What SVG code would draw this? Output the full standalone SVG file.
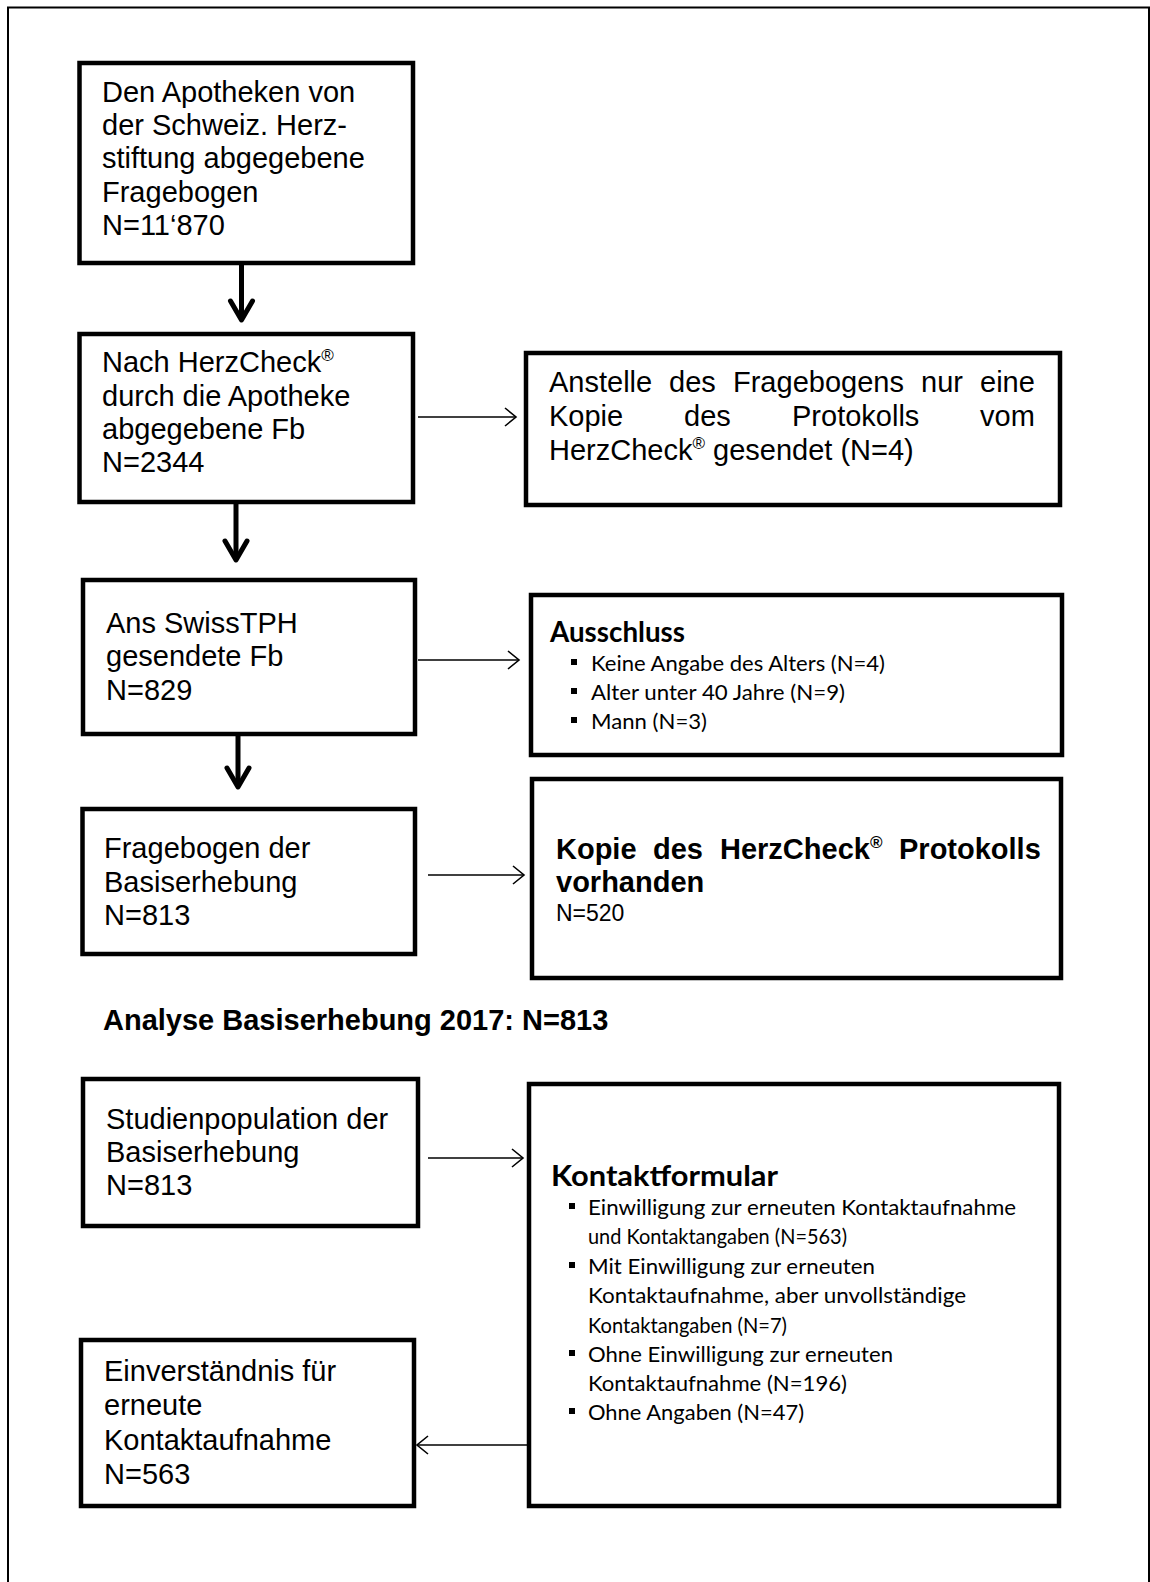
<svg xmlns="http://www.w3.org/2000/svg" width="1150" height="1582" viewBox="0 0 1150 1582">
<style>
.box{fill:#fff;stroke:#000;stroke-width:4.5}
.t{font-family:"Liberation Sans",Arial,sans-serif;font-size:29px;fill:#000}
.tb{font-family:"Liberation Sans",Arial,sans-serif;font-size:29px;font-weight:bold;fill:#000}
.c{font-family:Lato,"Open Sans",sans-serif;font-size:22px;fill:#000}
.cb{font-family:Lato,"Open Sans",sans-serif;font-size:28px;font-weight:bold;fill:#000}
.sup{font-size:17px}
.thick{stroke:#000;stroke-width:5;fill:none}
.thin{stroke:#000;stroke-width:1.6;fill:none}
.bul{fill:#000}
</style>
<defs>
<marker id="mThick" markerUnits="userSpaceOnUse" markerWidth="40" markerHeight="40" viewBox="-30 -20 40 40" refX="0" refY="0" orient="auto">
<path d="M-19,-11 L0,0 L-19,11" fill="none" stroke="#000" stroke-width="5" stroke-linecap="round" stroke-linejoin="round"/>
</marker>
<marker id="mThin" markerUnits="userSpaceOnUse" markerWidth="30" markerHeight="30" viewBox="-20 -15 30 30" refX="0" refY="0" orient="auto">
<path d="M-11,-9 L0,0 L-11,9" fill="none" stroke="#000" stroke-width="1.6"/>
</marker>
</defs>
<rect width="1150" height="1582" fill="#fff"/>
<path d="M8,1582 V7.5 H1149 V1582" fill="none" stroke="#000" stroke-width="2"/>

<g id="connectors">
<line class="thick" x1="241.5" y1="265" x2="241.5" y2="320" marker-end="url(#mThick)"/>
<line class="thin" x1="418" y1="417" x2="516" y2="417" marker-end="url(#mThin)"/>
<line class="thick" x1="236" y1="504" x2="236" y2="560" marker-end="url(#mThick)"/>
<line class="thin" x1="418" y1="660" x2="519" y2="660" marker-end="url(#mThin)"/>
<line class="thick" x1="238" y1="736" x2="238" y2="787" marker-end="url(#mThick)"/>
<line class="thin" x1="428" y1="875" x2="524" y2="875" marker-end="url(#mThin)"/>
<line class="thin" x1="428" y1="1158" x2="523" y2="1158" marker-end="url(#mThin)"/>
<line class="thin" x1="529" y1="1445" x2="417" y2="1445" marker-end="url(#mThin)"/>
</g>

<g id="n1">
<rect class="box" x="79.5" y="63" width="333.5" height="200"/>
<text class="t" x="102" y="102">Den Apotheken von</text>
<text class="t" x="102" y="135">der Schweiz. Herz-</text>
<text class="t" x="102" y="168">stiftung abgegebene</text>
<text class="t" x="102" y="202">Fragebogen</text>
<text class="t" x="102" y="235">N=11‘870</text>
</g>

<g id="n2">
<rect class="box" x="79.5" y="334" width="333.5" height="168"/>
<text class="t" x="102" y="372">Nach HerzCheck<tspan class="sup" dy="-11">®</tspan></text>
<text class="t" x="102" y="406">durch die Apotheke</text>
<text class="t" x="102" y="439">abgegebene Fb</text>
<text class="t" x="102" y="472">N=2344</text>
</g>

<g id="n3">
<rect class="box" x="526" y="353" width="534" height="152"/>
<text class="t" y="392"><tspan x="549">Anstelle</tspan><tspan x="669">des</tspan><tspan x="733">Fragebogens</tspan><tspan x="921">nur</tspan><tspan x="980">eine</tspan></text>
<text class="t" y="426"><tspan x="549">Kopie</tspan><tspan x="684">des</tspan><tspan x="792">Protokolls</tspan><tspan x="980">vom</tspan></text>
<text class="t" x="549" y="460">HerzCheck<tspan class="sup" dy="-11">®</tspan><tspan dy="11"> gesendet (N=4)</tspan></text>
</g>

<g id="n4">
<rect class="box" x="83" y="580" width="332" height="154"/>
<text class="t" x="106" y="633">Ans SwissTPH</text>
<text class="t" x="106" y="666">gesendete Fb</text>
<text class="t" x="106" y="700">N=829</text>
</g>

<g id="n5">
<rect class="box" x="531" y="595" width="531" height="160"/>
<text class="cb" x="550" y="642" textLength="135" lengthAdjust="spacingAndGlyphs">Ausschluss</text>
<rect class="bul" x="571" y="659" width="6" height="6"/>
<text class="c" x="591" y="671" textLength="294" lengthAdjust="spacingAndGlyphs">Keine Angabe des Alters (N=4)</text>
<rect class="bul" x="571" y="688" width="6" height="6"/>
<text class="c" x="591" y="700" textLength="254" lengthAdjust="spacingAndGlyphs">Alter unter 40 Jahre (N=9)</text>
<rect class="bul" x="571" y="717" width="6" height="6"/>
<text class="c" x="591" y="729" textLength="116" lengthAdjust="spacingAndGlyphs">Mann (N=3)</text>
</g>

<g id="n6">
<rect class="box" x="82.5" y="809" width="332.5" height="145"/>
<text class="t" x="104" y="858">Fragebogen der</text>
<text class="t" x="104" y="892">Basiserhebung</text>
<text class="t" x="104" y="925">N=813</text>
</g>

<g id="n7">
<rect class="box" x="532" y="779" width="529" height="199"/>
<text class="tb" y="859"><tspan x="556">Kopie</tspan><tspan x="653">des</tspan><tspan x="720">HerzCheck</tspan><tspan class="sup" dy="-11">®</tspan><tspan x="899" dy="11">Protokolls</tspan></text>
<text class="tb" x="556" y="892">vorhanden</text>
<text class="t" x="556" y="921" style="font-size:23px">N=520</text>
</g>

<g id="title">
<text class="tb" x="103" y="1030">Analyse Basiserhebung 2017: N=813</text>
</g>

<g id="n8">
<rect class="box" x="83" y="1079" width="335" height="147"/>
<text class="t" x="106" y="1129">Studienpopulation der</text>
<text class="t" x="106" y="1162">Basiserhebung</text>
<text class="t" x="106" y="1195">N=813</text>
</g>

<g id="n9">
<rect class="box" x="529" y="1084" width="530" height="422"/>
<text class="cb" x="551" y="1186" textLength="227" lengthAdjust="spacingAndGlyphs">Kontaktformular</text>
<rect class="bul" x="569" y="1203" width="6" height="6"/>
<text class="c" x="588" y="1215" textLength="428" lengthAdjust="spacingAndGlyphs">Einwilligung zur erneuten Kontaktaufnahme</text>
<text class="c" x="588" y="1244" textLength="259" lengthAdjust="spacingAndGlyphs">und Kontaktangaben (N=563)</text>
<rect class="bul" x="569" y="1262" width="6" height="6"/>
<text class="c" x="588" y="1274" textLength="287" lengthAdjust="spacingAndGlyphs">Mit Einwilligung zur erneuten</text>
<text class="c" x="588" y="1303" textLength="378" lengthAdjust="spacingAndGlyphs">Kontaktaufnahme, aber unvollständige</text>
<text class="c" x="588" y="1333" textLength="199" lengthAdjust="spacingAndGlyphs">Kontaktangaben (N=7)</text>
<rect class="bul" x="569" y="1350" width="6" height="6"/>
<text class="c" x="588" y="1362" textLength="305" lengthAdjust="spacingAndGlyphs">Ohne Einwilligung zur erneuten</text>
<text class="c" x="588" y="1391" textLength="259" lengthAdjust="spacingAndGlyphs">Kontaktaufnahme (N=196)</text>
<rect class="bul" x="569" y="1408" width="6" height="6"/>
<text class="c" x="588" y="1420" textLength="216" lengthAdjust="spacingAndGlyphs">Ohne Angaben (N=47)</text>
</g>

<g id="n10">
<rect class="box" x="81" y="1340" width="333" height="166"/>
<text class="t" x="104" y="1381">Einverständnis für</text>
<text class="t" x="104" y="1415">erneute</text>
<text class="t" x="104" y="1450">Kontaktaufnahme</text>
<text class="t" x="104" y="1484">N=563</text>
</g>
</svg>
